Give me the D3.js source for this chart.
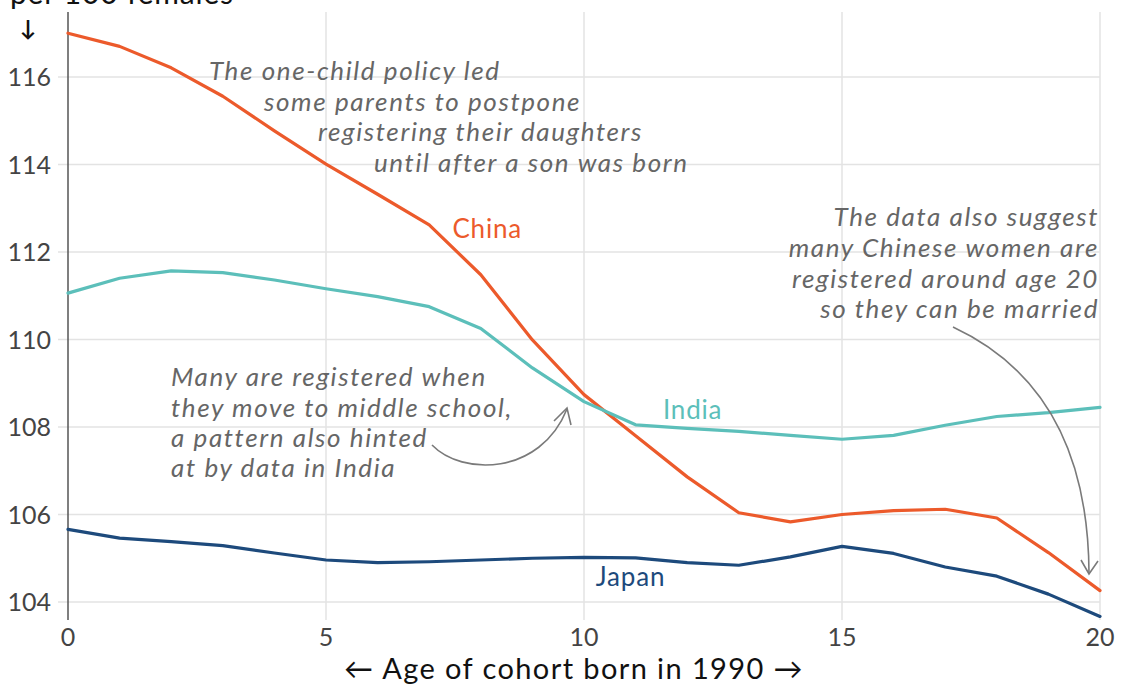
<!DOCTYPE html>
<html>
<head>
<meta charset="utf-8">
<script src="https://cdn.jsdelivr.net/npm/d3@7"></script>
<style>
  html, body { margin: 0; padding: 0; background: #fff; }
  svg { display: block; font-family: Lato, "Open Sans", sans-serif; }
  .grid line { stroke: #e3e3e3; stroke-width: 1.5; }
  .tick-label { fill: #444; font-size: 25px; }
  .note { fill: #666; font-size: 26px; font-style: italic; letter-spacing: 1.6px; }
  .series { fill: none; stroke-width: 3.2; stroke-linejoin: round; stroke-linecap: round; }
  .arrow { fill: none; stroke: #7a7a7a; stroke-width: 1.6; }
</style>
</head>
<body>
<div id="chart"></div>
<script>
// Age of the cohort born in 1990
const ages = [0, 1, 2, 3, 4, 5, 6, 7, 8, 9, 10, 11, 12, 13, 14, 15, 16, 17, 18, 19, 20];

// Males per 100 females
const china = [117.0, 116.70, 116.21, 115.56, 114.77, 114.01, 113.32, 112.62, 111.48, 109.99,
  108.74, 107.80, 106.86, 106.04, 105.83, 106.0, 106.09, 106.12, 105.92, 105.13, 104.26];
const india = [111.06, 111.40, 111.57, 111.53, 111.36, 111.16, 110.98, 110.75, 110.25, 109.35,
  108.58, 108.05, 107.97, 107.90, 107.81, 107.72, 107.81, 108.04, 108.24, 108.33, 108.45];
const japan = [105.66, 105.46, 105.38, 105.29, 105.12, 104.96, 104.90, 104.92, 104.96, 105.0,
  105.02, 105.01, 104.90, 104.84, 105.03, 105.27, 105.11, 104.80, 104.59, 104.18, 103.67];

const countries = ['China', 'India', 'Japan'];
const colours = ['#ec5a2b', '#5cbfba', '#1d4a7c'];

const yTicks = [104, 106, 108, 110, 112, 114, 116];
const xTicks = [0, 5, 10, 15, 20];

const w = 1121, h = 688,
  plotTop = 12, plotBottom = 620;

const x = d3.scaleLinear().domain([0, 20]).range([68, 1100]);
const y = d3.scaleLinear().domain([104, 116]).range([602, 77]);

const svg = d3.select('#chart').append('svg')
  .attr('width', w)
  .attr('height', h);

// Gridlines
const grid = svg.append('g').attr('class', 'grid');
grid.selectAll('.hgrid')
  .data(yTicks)
  .enter().append('line')
  .attr('x1', x(0) - 10).attr('x2', x(20))
  .attr('y1', d => y(d)).attr('y2', d => y(d));
grid.selectAll('.vgrid')
  .data(xTicks.filter(d => d > 0))
  .enter().append('line')
  .attr('x1', d => x(d)).attr('x2', d => x(d))
  .attr('y1', plotTop).attr('y2', plotBottom);

// Vertical axis line
svg.append('line')
  .attr('x1', x(0)).attr('x2', x(0))
  .attr('y1', plotTop).attr('y2', plotBottom)
  .attr('stroke', '#555').attr('stroke-width', 1.5);

// Tick labels
svg.selectAll('.ylab')
  .data(yTicks)
  .enter().append('text')
  .attr('class', 'tick-label')
  .attr('x', x(0) - 17)
  .attr('y', d => y(d))
  .attr('dy', '0.36em')
  .attr('text-anchor', 'end')
  .text(d => d);

svg.selectAll('.xlab')
  .data(xTicks)
  .enter().append('text')
  .attr('class', 'tick-label')
  .attr('x', d => x(d))
  .attr('y', 646)
  .attr('text-anchor', 'middle')
  .text(d => d);

// Axis titles
svg.append('text')
  .attr('x', 574).attr('y', 679)
  .attr('text-anchor', 'middle')
  .attr('fill', '#111')
  .style('font-size', '29px')
  .style('letter-spacing', '1.4px')
  .text('\u2190 Age of cohort born in 1990 \u2192');

svg.append('text')
  .attr('x', 10).attr('y', 4)
  .attr('fill', '#111')
  .style('font-size', '30px')
  .style('letter-spacing', '0.8px')
  .text('per 100 females');

svg.append('text')
  .attr('x', 28).attr('y', 36)
  .attr('text-anchor', 'middle')
  .attr('fill', '#111')
  .style('font-size', '22px')
  .style('font-weight', 'bold')
  .text('\u2193');

// Series lines
const line = d3.line()
  .x((d, i) => x(ages[i]))
  .y(d => y(d));

[china, india, japan].forEach((vals, i) => {
  svg.append('path')
    .datum(vals)
    .attr('class', 'series')
    .attr('stroke', colours[i])
    .attr('d', line);
});

// Series labels (placed in data coordinates)
const labelPos = [[7.45, 112.32], [11.53, 108.18], [10.23, 104.37]];
countries.forEach((c, i) => {
  svg.append('text')
    .attr('x', x(labelPos[i][0]))
    .attr('y', y(labelPos[i][1]))
    .attr('fill', colours[i])
    .style('font-size', '26px')
    .style('letter-spacing', '0.8px')
    .text(c);
});

// Annotations
const addNote = (lines, anchor) => {
  lines.forEach(l => {
    svg.append('text')
      .attr('class', 'note')
      .attr('x', l[0]).attr('y', l[1])
      .attr('text-anchor', anchor)
      .text(l[2]);
  });
};

addNote([
  [209, 80, 'The one-child policy led'],
  [264, 111, 'some parents to postpone'],
  [318, 141, 'registering their daughters'],
  [374, 172, 'until after a son was born']
], 'start');

addNote([
  [1099, 226, 'The data also suggest'],
  [1099, 257, 'many Chinese women are'],
  [1099, 288, 'registered around age 20'],
  [1099, 318, 'so they can be married']
], 'end');

addNote([
  [171, 386, 'Many are registered when'],
  [171, 417, 'they move to middle school,'],
  [171, 447, 'a pattern also hinted'],
  [171, 477, 'at by data in India']
], 'start');

// Curved arrows
svg.append('path')
  .attr('class', 'arrow')
  .attr('d', 'M432,445 C462,476 540,476 567,409');
svg.append('path')
  .attr('class', 'arrow')
  .attr('d', 'M554,421 L567,408 L571,425');

svg.append('path')
  .attr('class', 'arrow')
  .attr('d', 'M953,327 Q1088,390 1089,573');
svg.append('path')
  .attr('class', 'arrow')
  .attr('d', 'M1081,560 L1089,574 L1098,561');
</script>
</body>
</html>
